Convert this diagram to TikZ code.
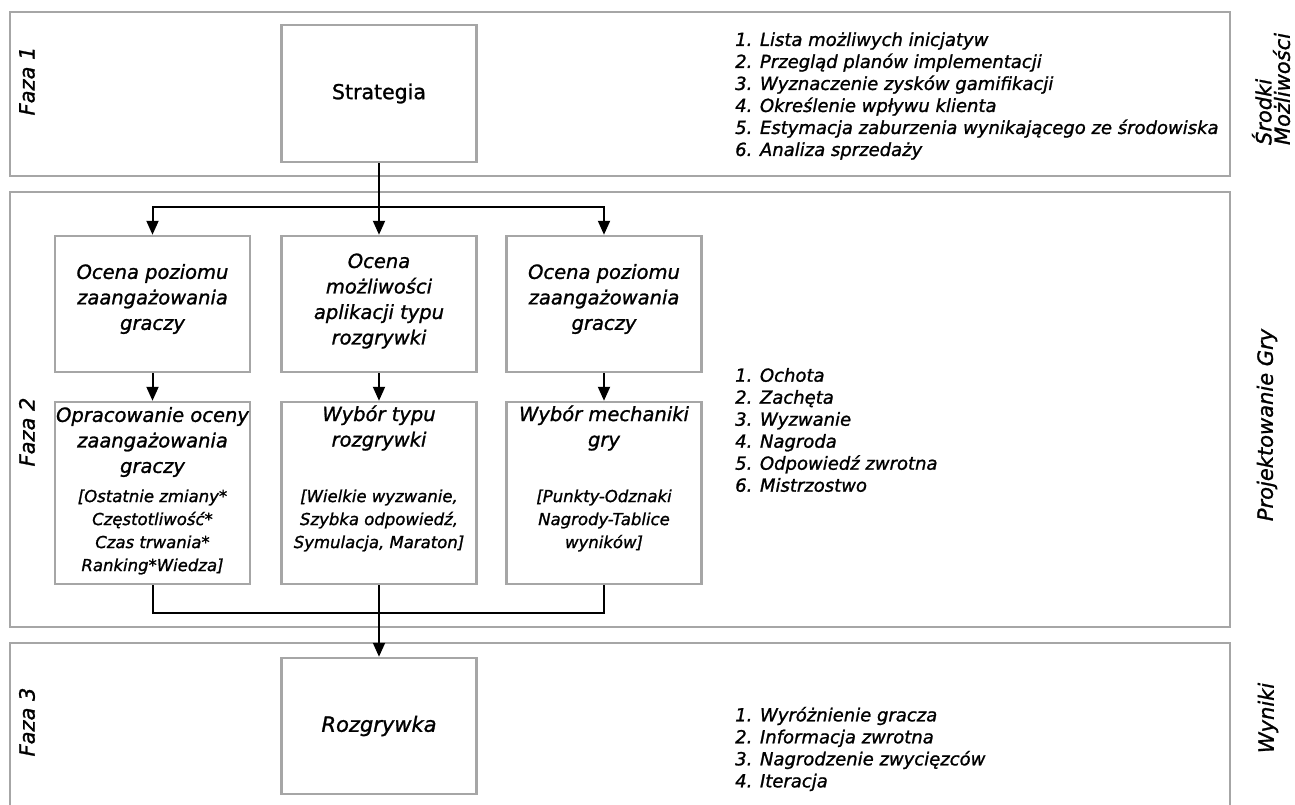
\documentclass[tikz,border=0pt]{standalone}
\usepackage{fontspec}
\setmainfont{DejaVu Sans}[FakeBold=1.2]
\usetikzlibrary{arrows.meta}
\definecolor{gbord}{RGB}{166,166,166}
\begin{document}
\begin{tikzpicture}[x=1pt,y=-1pt,
  phase/.style={draw=gbord, line width=2.5pt},
  box/.style={draw=gbord, line width=2.5pt, fill=white, minimum width=195pt, inner sep=0pt},
  conn/.style={line width=2pt, black},
  arr/.style={conn, -{Triangle[length=14pt,width=12pt]}},
  ttl/.style={font=\fontsize{19.5}{25.5}\selectfont\itshape, align=center, inner sep=0pt},
  brk/.style={font=\fontsize{16.5}{23}\selectfont\itshape, align=center, inner sep=0pt},
  lst/.style={font=\fontsize{18}{22}\selectfont\itshape, align=left, anchor=west, inner sep=0pt},
  side/.style={font=\fontsize{21}{18.5}\selectfont\itshape, rotate=90, align=left, inner sep=0pt}]
\useasboundingbox (0,0) rectangle (1295,805);
\fill[white] (0,0) rectangle (1295,805);
% phase frames
\draw[phase] (10,12) rectangle (1230,176);
\draw[phase] (10,192) rectangle (1230,627);
\draw[phase] (10,815) -- (10,643) -- (1230,643) -- (1230,815);
% side labels
\node[side] (f1) at (27,81) {Faza 1};
\node[side] (f2) at (27,432) {Faza 2};
\node[side] (f3) at (27,722) {Faza 3};
\node[side] (r1) at (1271,89) {Środki\\Możliwości};
\node[side] (r2) at (1267,425) {Projektowanie Gry};
\node[side] (r3) at (1268,718) {Wyniki};
% boxes
\node[box, minimum height=137pt, font=\fontsize{20.5}{26}\selectfont] (strat) at (379,93.5) {Strategia};
\node[box, minimum height=136pt] (a1) at (152.5,304) {};
\node[box, minimum height=136pt] (b1) at (379,304) {};
\node[box, minimum height=136pt] (c1) at (604,304) {};
\node[box, minimum height=182pt] (a2) at (152.5,493) {};
\node[box, minimum height=182pt] (b2) at (379,493) {};
\node[box, minimum height=182pt] (c2) at (604,493) {};
\node[box, minimum height=136pt, font=\fontsize{21}{26}\selectfont\itshape] (roz) at (379,726) {Rozgrywka};
% box texts
\node[ttl] (a1t) at (152.5,299) {Ocena poziomu\\zaangażowania\\graczy};
\node[ttl] (b1t) at (379,301) {Ocena\\możliwości\\aplikacji typu\\rozgrywki};
\node[ttl] (c1t) at (604,299) {Ocena poziomu\\zaangażowania\\graczy};
\node[ttl] (a2t) at (152.5,442) {Opracowanie oceny\\zaangażowania\\graczy};
\node[brk] (a2b) at (152.5,532) {[Ostatnie zmiany*\\Częstotliwość*\\Czas trwania*\\Ranking*Wiedza]};
\node[ttl] (b2t) at (379,428) {Wybór typu\\rozgrywki};
\node[brk] (b2b) at (379,520.5) {[Wielkie wyzwanie,\\Szybka odpowiedź,\\Symulacja, Maraton]};
\node[ttl] (c2t) at (604,428) {Wybór mechaniki\\gry};
\node[brk] (c2b) at (604,520.5) {[Punkty-Odznaki\\Nagrody-Tablice\\wyników]};
% lists
\node[lst] (l1) at (735,96) {1. Lista możliwych inicjatyw\\2. Przegląd planów implementacji\\3. Wyznaczenie zysków gamifikacji\\4. Określenie wpływu klienta\\5. Estymacja zaburzenia wynikającego ze środowiska\\6. Analiza sprzedaży};
\node[lst] (l2) at (735,430) {1. Ochota\\2. Zachęta\\3. Wyzwanie\\4. Nagroda\\5. Odpowiedź zwrotna\\6. Mistrzostwo};
\node[lst] (l3) at (735,749) {1. Wyróżnienie gracza\\2. Informacja zwrotna\\3. Nagrodzenie zwycięzców\\4. Iteracja};
% connectors
\coordinate (br) at (379,207);
\coordinate (mg) at (379,613);
\draw[conn] (strat.south) -- (br);
\draw[arr] (br) -| (a1.north);
\draw[arr] (br) -- (b1.north);
\draw[arr] (br) -| (c1.north);
\draw[arr] (a1.south) -- (a2.north);
\draw[arr] (b1.south) -- (b2.north);
\draw[arr] (c1.south) -- (c2.north);
\draw[conn] (a2.south) |- (mg);
\draw[conn] (c2.south) |- (mg);
\draw[arr] (b2.south) -- (roz.north);
\end{tikzpicture}
\end{document}
